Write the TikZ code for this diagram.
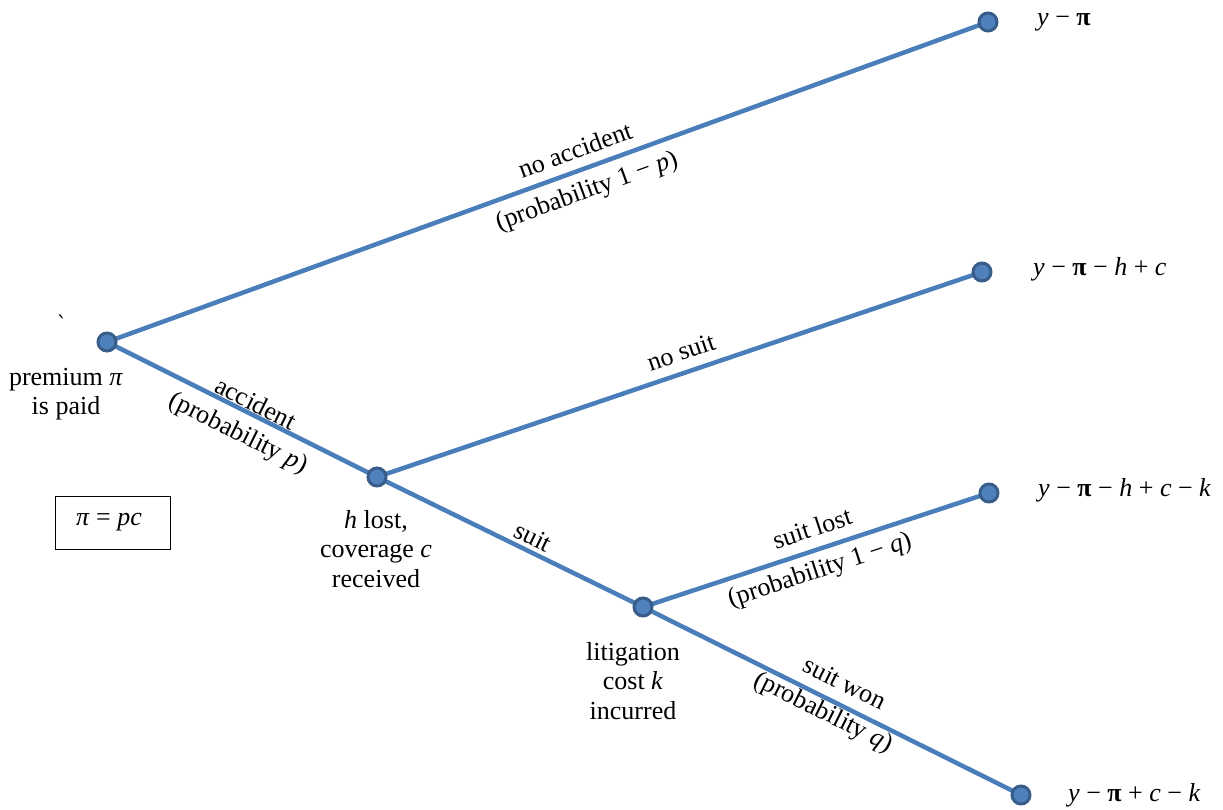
\documentclass[tikz,border=0pt]{standalone}
\usepackage{fontspec}
\setmainfont{Liberation Serif}
\newfontfamily\djvserif{DejaVu Serif}
\definecolor{edgeblue}{HTML}{4A7EBB}
\definecolor{dotfill}{HTML}{4F81BD}
\definecolor{dotdraw}{HTML}{385D8A}
\pgfdeclarelayer{bg}
\pgfsetlayers{bg,main}
\begin{document}
\begin{tikzpicture}[x=1pt,y=-1pt,
  font=\fontsize{26}{29.5}\selectfont,
  dot/.style={circle, fill=dotfill, draw=dotdraw, line width=3pt, minimum size=18pt, inner sep=0pt},
  branch/.style={draw=edgeblue, line width=4.5pt},
  lbl/.style={inner sep=0pt, anchor=center},
  caption/.style={align=center, inner sep=0pt, anchor=center},
  payoff/.style={inner sep=0pt, anchor=west}]
\useasboundingbox (0,0) rectangle (1223,810);

% decision nodes
\node[dot] (root) at (107,342) {};
\node[dot] (n2) at (377,477) {};
\node[dot] (n3) at (643,607) {};
\node[dot] (l1) at (988,22) {};
\node[dot] (l2) at (982,272) {};
\node[dot] (l3) at (989,493) {};
\node[dot] (l4) at (1021,795) {};

\begin{pgfonlayer}{bg}
\draw[branch] (root.center) -- (l1.center);
\draw[branch] (root.center) -- (n2.center);
\draw[branch] (n2.center) -- (l2.center);
\draw[branch] (n2.center) -- (n3.center);
\draw[branch] (n3.center) -- (l3.center);
\draw[branch] (n3.center) -- (l4.center);
\end{pgfonlayer}

% branch labels
\node[lbl, rotate=20] (t1) at (575,150) {no accident};
\node[lbl, rotate=20] (t2) at (587,192) {(probability 1 − \textit{p})};
\node[lbl, rotate=-26.5] (t3) at (256,403) {accident};
\node[lbl, rotate=-26.5] (t4) at (238,434) {(probability \textit{p})};
\node[lbl, rotate=18.7] (t5) at (681,352) {no suit};
\node[lbl, rotate=-26] (t6) at (533,537) {suit};
\node[lbl, rotate=18.2] (t7) at (812,528) {suit lost};
\node[lbl, rotate=18.2] (t8) at (820,571) {(probability 1 − \textit{q})};
\node[lbl, rotate=-26.4] (t9) at (845,683) {suit won};
\node[lbl, rotate=-26.4] (t10) at (823,713) {(probability \textit{q})};

% node captions
\node[caption, font=\djvserif\fontsize{22}{24}\selectfont] (c0) at (62,324) {ˋ};
\node[caption] (c1) at (66,394) {premium \textit{π}\\is paid};
\node[caption] (c2) at (376,549) {\textit{h} lost,\\coverage \textit{c}\\received};
\node[caption] (c3) at (633,681) {litigation\\cost \textit{k}\\incurred};

% box
\draw[black, line width=0.8pt] (55,496) rectangle (170,549);
\node[inner sep=0pt] (box) at (109,522) {\textit{π} = \textit{pc}};

% payoffs
\node[payoff] (p1) at (1037,22) {\textit{y} − \textbf{π}};
\node[payoff] (p2) at (1033,269) {\textit{y} − \textbf{π} − \textit{h} + \textit{c}};
\node[payoff] (p3) at (1038,490) {\textit{y} − \textbf{π} − \textit{h} + \textit{c} − \textit{k}};
\node[payoff] (p4) at (1068,795) {\textit{y} − \textbf{π} + \textit{c} − \textit{k}};
\end{tikzpicture}
\end{document}
